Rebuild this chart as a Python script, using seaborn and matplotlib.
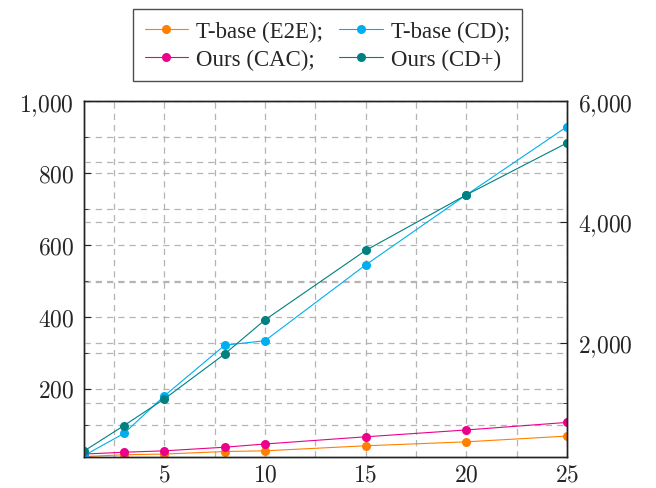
import numpy as np
import pandas as pd
import matplotlib
matplotlib.use('Agg')
import matplotlib.pyplot as plt
from matplotlib.ticker import MultipleLocator, FuncFormatter
from matplotlib.lines import Line2D
import seaborn as sns

# values
steps = [1, 3, 5, 8, 10, 15, 20, 25]
e2e = [12, 17, 19, 26, 28, 42, 53, 69]          # left axis
cac = [19, 24, 28, 38, 47, 67, 86, 107]         # left axis
cd = [130, 500, 1120, 1960, 2035, 3290, 4450, 5580]    # right axis
cdp = [205, 630, 1070, 1815, 2380, 3530, 4450, 5310]   # right axis

labels = ['T-base (E2E);', 'T-base (CD);', 'Ours (CAC);', 'Ours (CD+)']
colors = {'T-base (E2E);': '#FF8000', 'T-base (CD);': '#00AEEF',
          'Ours (CAC);': '#EC008C', 'Ours (CD+)': '#008080'}

left_df = pd.DataFrame({'x': steps * 2, 'y': e2e + cac,
                        'series': [labels[0]] * 8 + [labels[2]] * 8})
right_df = pd.DataFrame({'x': steps * 2, 'y': cd + cdp,
                         'series': [labels[1]] * 8 + [labels[3]] * 8})

sns.set_style('white')
plt.rcParams['mathtext.fontset'] = 'cm'
plt.rcParams['font.family'] = ['Liberation Serif', 'DejaVu Serif']

fig = plt.figure(figsize=(6.56, 4.89), dpi=100)
ax = fig.add_axes([0.1277, 0.0628, 0.8643 - 0.1277, 0.7908 - 0.0628])
ax2 = ax.twinx()

grid_kw = dict(color='#b4b4b4', linestyle=(0, (5, 4)), linewidth=0.9)
ax.grid(True, which='both', **grid_kw)
ax2.grid(True, which='both', axis='y', **grid_kw)
ax.set_axisbelow(True)
ax2.set_axisbelow(True)

sns.lineplot(data=left_df, x='x', y='y', hue='series', palette=colors,
             marker='o', markersize=6.5, markeredgewidth=0, linewidth=0.8,
             ax=ax, legend=False)
sns.lineplot(data=right_df, x='x', y='y', hue='series', palette=colors,
             marker='o', markersize=6.5, markeredgewidth=0, linewidth=0.8,
             ax=ax2, legend=False)

ax.set_xlim(1, 25)
ax.set_ylim(10, 1000)
ax2.set_ylim(104, 6000)

ax.xaxis.set_major_locator(MultipleLocator(5))
ax.xaxis.set_minor_locator(MultipleLocator(2.5))
ax.yaxis.set_major_locator(MultipleLocator(200))
ax.yaxis.set_minor_locator(MultipleLocator(100))
ax2.yaxis.set_major_locator(MultipleLocator(2000))
ax2.yaxis.set_minor_locator(MultipleLocator(1000))

fmt = FuncFormatter(lambda v, p: r'$%s$' % f'{int(v):,}'.replace(',', '{,}'))
ax.xaxis.set_major_formatter(fmt)
ax.yaxis.set_major_formatter(fmt)
ax2.yaxis.set_major_formatter(fmt)

for a in (ax, ax2):
    a.set_xlabel('')
    a.set_ylabel('')
    for s in a.spines.values():
        s.set_color('#222222')
        s.set_linewidth(1.0)
    a.tick_params(which='both', direction='in', color='#222222', labelsize=17)
    a.tick_params(which='major', length=5, width=0.8)
    a.tick_params(which='minor', length=3, width=0.6)
ax.tick_params(axis='y', pad=7)
ax2.tick_params(axis='y', pad=8)
ax.tick_params(axis='x', pad=5)

# legend: row 1 E2E, CD ; row 2 CAC, CD+
hs = [Line2D([], [], color=colors[k], marker='o', markersize=6.5,
             markeredgewidth=0, linewidth=0.8) for k in labels]
order = [0, 2, 1, 3]
leg = fig.legend([hs[i] for i in order], [labels[i] for i in order],
                 loc='upper center', bbox_to_anchor=(0.499, 1 - 10 / 489),
                 ncol=2, fontsize=16.5, fancybox=False, frameon=True,
                 edgecolor='#222222', handlelength=1.9, handletextpad=0.35,
                 columnspacing=0.7, borderpad=0.5, labelspacing=0.3,
                 borderaxespad=0)
leg.get_frame().set_linewidth(1.0)

fig.savefig('out.png', dpi=100)
